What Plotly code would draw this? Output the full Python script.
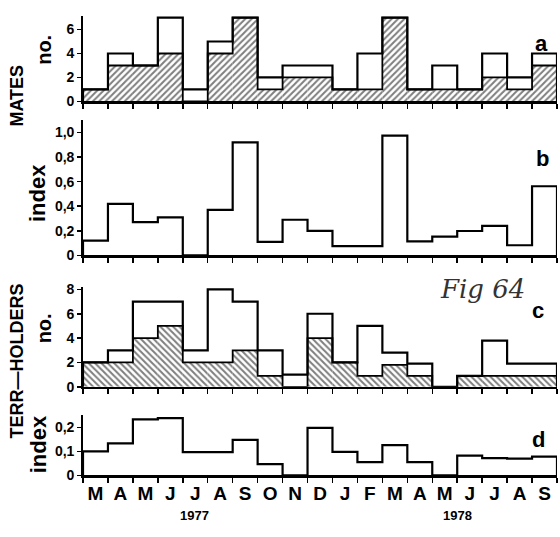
import plotly.graph_objects as go

W, H = 560, 537

months = ["M", "A", "M", "J", "J", "A", "S", "O", "N", "D",
          "J", "F", "M", "A", "M", "J", "J", "A", "S"]
years = ["1977", "1978"]

mates_total = [1, 4, 3, 7, 1, 5, 7, 2, 3, 3, 1, 4, 7, 1, 3, 1, 4, 2, 4]
mates_hatched = [1, 3, 3, 4, 0, 4, 7, 1, 2, 2, 1, 1, 7, 1, 1, 1, 2, 1, 3]
mates_index = [0.12, 0.42, 0.27, 0.31, 0, 0.37, 0.92, 0.11, 0.29, 0.2,
               0.075, 0.075, 0.975, 0.113, 0.153, 0.198, 0.24, 0.082, 0.563]

terr_total = [2, 3, 7, 7, 3, 8, 7, 3, 1, 6, 2, 5, 2.8, 1.9, 0, 0.9, 3.8, 1.9, 1.9]
terr_hatched = [2, 2, 4, 5, 2, 2, 3, 0.9, 0, 4, 2, 0.9, 1.8, 0.9, 0, 0.9, 0.9, 0.9, 0.9]
terr_index = [0.1, 0.133, 0.233, 0.238, 0.097, 0.097, 0.148, 0.047, 0, 0.198,
              0.098, 0.055, 0.126, 0.055, 0, 0.082, 0.072, 0.07, 0.078]

n = len(months)
centers = [i + 0.5 for i in range(n)]
edges = list(range(n + 1))


def step_xy(vals):
    xs = [0] + edges[:-1] + [n, n]
    ys = [0] + list(vals) + [vals[-1], 0]
    return xs, ys


def px_y(p):
    return 1 - p / H


FONT = "Liberation Sans, Arial, sans-serif"
fig = go.Figure()

panels = [
    # (axis suffix, zero px, top px, range top, tickvals, ticktext)
    ("", 98, 10, 7.15, [0, 2, 4, 6], ["0", "2", "4", "6"]),
    ("2", 256, 117, 1.103, [0, 0.2, 0.4, 0.6, 0.8, 1.0], ["0", "0,2", "0,4", "0,6", "0,8", "1,0"]),
    ("3", 391, 289, 8.16, [0, 2, 4, 6, 8], ["0", "2", "4", "6", "8"]),
    ("4", 482, 420, 0.251, [0, 0.1, 0.2], ["0", "0,1", "0,2"]),
]

hatch_data = {"": (mates_total, mates_hatched, "/"), "3": (terr_total, terr_hatched, "\\")}
index_data = {"2": mates_index, "4": terr_index}

for suf, zero, top, rtop, tv, tt in panels:
    xa = "x" + suf
    ya = "y" + suf
    if suf in hatch_data:
        tot, hat, shp = hatch_data[suf]
        fig.add_trace(go.Bar(
            x=centers, y=hat, width=1, xaxis=xa, yaxis=ya,
            marker=dict(color="white", line=dict(width=0),
                        pattern=dict(shape=shp, fgcolor="black", bgcolor="white",
                                     size=4.5, solidity=0.45)),
            showlegend=False, hoverinfo="skip"))
        xs, ys = step_xy(hat)
        fig.add_trace(go.Scatter(x=xs, y=ys, mode="lines", line=dict(color="black", width=1.8, shape="hv"),
                                 xaxis=xa, yaxis=ya, showlegend=False, hoverinfo="skip"))
        xs, ys = step_xy(tot)
        fig.add_trace(go.Scatter(x=xs, y=ys, mode="lines", line=dict(color="black", width=2.2, shape="hv"),
                                 xaxis=xa, yaxis=ya, showlegend=False, hoverinfo="skip"))
    else:
        vals = index_data[suf]
        xs, ys = step_xy(vals)
        fig.add_trace(go.Scatter(x=xs, y=ys, mode="lines", line=dict(color="black", width=2.2, shape="hv"),
                                 xaxis=xa, yaxis=ya, showlegend=False, hoverinfo="skip"))

    is_bottom = suf == "4"
    xaxis = dict(
        domain=[83 / W, 557 / W], range=[0, n], anchor=ya,
        showline=True, linecolor="black", linewidth=2.2, showgrid=False, zeroline=False,
        ticks="", showticklabels=is_bottom, fixedrange=True,
        tickvals=centers, ticktext=months,
        tickfont=dict(family=FONT, size=19, color="black", weight="bold"),
        minor=dict(tickvals=edges, ticks="outside", ticklen=5, tickwidth=1.5, tickcolor="black"),
    )
    yaxis = dict(
        domain=[px_y(zero), px_y(top)], range=[0, rtop], anchor=xa,
        showline=True, linecolor="black", linewidth=1.8, showgrid=False, zeroline=False,
        ticks="outside", ticklen=4, tickwidth=1.5, tickcolor="black",
        tickvals=tv, ticktext=tt, fixedrange=True,
        tickfont=dict(family=FONT, size=14, color="black", weight="bold"),
    )
    fig.update_layout(**{"xaxis" + suf: xaxis, "yaxis" + suf: yaxis})

annotations = []


def ann(text, x, y, size, angle=0, weight="bold", family=FONT, color="black", italic=False):
    annotations.append(dict(
        text=text, x=x / W, y=px_y(y), xref="paper", yref="paper",
        showarrow=False, textangle=angle, xanchor="center", yanchor="middle",
        font=dict(family=family, size=size, color=color, weight=weight,
                  style="italic" if italic else "normal")))


ann("MATES", 17, 92, 18, -90)
ann("no.", 44, 45, 20, -90)
ann("index", 38, 192, 22, -90)
ann("TERR\u2014HOLDERS", 17, 365, 18, -90)
ann("no.", 44, 331, 20, -90)
ann("index", 38, 450, 22, -90)

ann("a", 541, 38, 22)
ann("b", 542, 157, 22)
ann("c", 538, 313, 22)
ann("d", 538, 445, 22)

ann("Fig 64", 482, 291, 26, weight="normal", family="DejaVu Serif", color="#333", italic=True)

year_x = [4.45, 15.0]
for yx, yt in zip(year_x, years):
    annotations.append(dict(
        text=yt, x=yx, y=px_y(523), xref="x4", yref="paper",
        showarrow=False, xanchor="center", yanchor="middle",
        font=dict(family=FONT, size=13, color="black", weight="bold")))

fig.update_layout(
    width=W, height=H, margin=dict(l=0, r=0, t=0, b=0),
    paper_bgcolor="white", plot_bgcolor="white",
    barmode="overlay", annotations=annotations, showlegend=False,
)

fig.write_html("out.html", config={"displayModeBar": False, "staticPlot": True},
               post_script="document.body.style.margin='0px';document.body.style.padding='0px';")
